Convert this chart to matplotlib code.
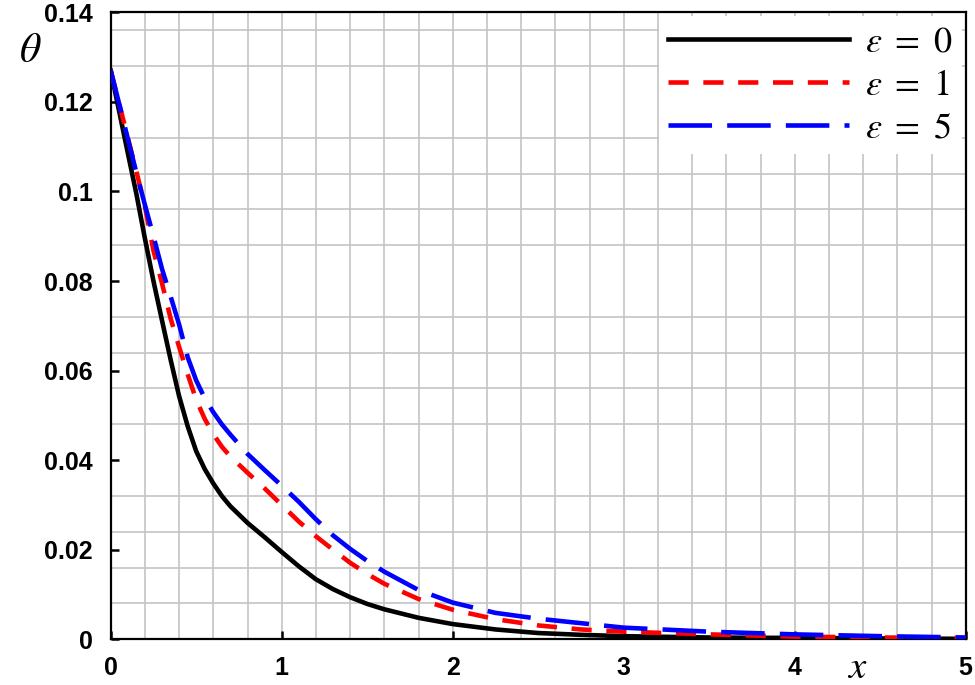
import numpy as np
import matplotlib.pyplot as plt
from matplotlib.ticker import MultipleLocator

plt.rcParams['mathtext.fontset'] = 'stix'

# x positions
x = [0, 0.05, 0.1, 0.15, 0.2, 0.25, 0.3, 0.35, 0.4, 0.45, 0.5, 0.55, 0.6,
     0.65, 0.7, 0.8, 0.9, 1.0, 1.1, 1.2, 1.3, 1.4, 1.5, 1.6, 1.8, 2.0, 2.25,
     2.5, 2.75, 3.0, 3.5, 4.0, 4.5, 5.0]

theta_eps0 = [0.127, 0.1178, 0.1086, 0.0995, 0.0895, 0.0800, 0.0712, 0.0625,
              0.0543, 0.0476, 0.0420, 0.0380, 0.0348, 0.0320, 0.0297, 0.0260,
              0.0228, 0.0195, 0.0163, 0.0134, 0.0112, 0.0094, 0.0079, 0.0067,
              0.0048, 0.0034, 0.0022, 0.0014, 0.0010, 0.0007, 0.0004, 0.0003,
              0.0002, 0.0001]

theta_eps1 = [0.127, 0.1195, 0.112, 0.1045, 0.0967, 0.0868, 0.0795, 0.0717,
              0.0653, 0.0592, 0.0535, 0.0492, 0.0458, 0.0430, 0.0408, 0.0372,
              0.0337, 0.0300, 0.0263, 0.0230, 0.0200, 0.0171, 0.0146, 0.0124,
              0.0090, 0.0066, 0.0045, 0.0031, 0.0022, 0.0017, 0.0011, 0.0006,
              0.0004, 0.0003]

theta_eps5 = [0.127, 0.1195, 0.1118, 0.1042, 0.0970, 0.0900, 0.0827, 0.0766,
              0.0703, 0.0630, 0.0578, 0.0538, 0.0507, 0.0480, 0.0457, 0.0414,
              0.0378, 0.0343, 0.0307, 0.0268, 0.0232, 0.0202, 0.0175, 0.0151,
              0.0110, 0.0082, 0.0059, 0.0046, 0.0036, 0.0026, 0.0017, 0.0011,
              0.0007, 0.0004]

labels = [r'$\varepsilon\ =\ 0$', r'$\varepsilon\ =\ 1$', r'$\varepsilon\ =\ 5$']

xticks = [0, 1, 2, 3, 4, 5]
xtick_labels = ['0', '1', '2', '3', '4', '5']
yticks = [0, 0.02, 0.04, 0.06, 0.08, 0.1, 0.12, 0.14]
ytick_labels = ['0', '0.02', '0.04', '0.06', '0.08', '0.1', '0.12', '0.14']

fig = plt.figure(figsize=(9.75, 6.85), dpi=100)
ax = fig.add_axes([110.7 / 975, 1 - 639.3 / 685, 855 / 975, 627 / 685])

ax.plot(x, theta_eps0, color='black', lw=3.3, label=labels[0], zorder=3)
ax.plot(x, theta_eps1, color='red', lw=3.3, dashes=(4.4, 3.2), label=labels[1], zorder=4)
ax.plot(x, theta_eps5, color='blue', lw=3.3, dashes=(9.5, 3.3), label=labels[2], zorder=5)

ax.set_xlim(0, 5)
ax.set_ylim(0, 0.14)

tick_font = dict(family='Liberation Sans', weight='bold', size=18)
ax.set_xticks(xticks)
ax.set_xticklabels(xtick_labels, fontdict=tick_font)
ax.set_yticks(yticks)
ax.set_yticklabels(ytick_labels, fontdict=tick_font)
ax.xaxis.set_minor_locator(MultipleLocator(0.2))
ax.yaxis.set_minor_locator(MultipleLocator(0.008))

ax.grid(True, axis='x', which='both', color='#c4c4c4', lw=1.2)
ax.grid(True, axis='y', which='minor', color='#c4c4c4', lw=1.2)
ax.set_axisbelow(True)

ax.tick_params(which='major', direction='in', length=6, width=1.8)
ax.tick_params(which='minor', length=0)
ax.tick_params(axis='y', pad=13)
ax.tick_params(axis='x', pad=12)

for s in ax.spines.values():
    s.set_linewidth(1.6)

leg = ax.legend(loc='upper right', fontsize=26,
                frameon=True, fancybox=False, framealpha=1, edgecolor='none',
                borderaxespad=0.1, handlelength=5.0, handletextpad=0.45,
                labelspacing=0.25, borderpad=0.25)
leg.set_zorder(10)

fig.text(30 / 975, 1 - 50 / 685, r'$\theta$', fontsize=30, ha='center', va='center')
fig.text(857 / 975, 1 - 667 / 685, r'$x$', fontsize=28, ha='center', va='center')

fig.savefig('out.png', dpi=100)
